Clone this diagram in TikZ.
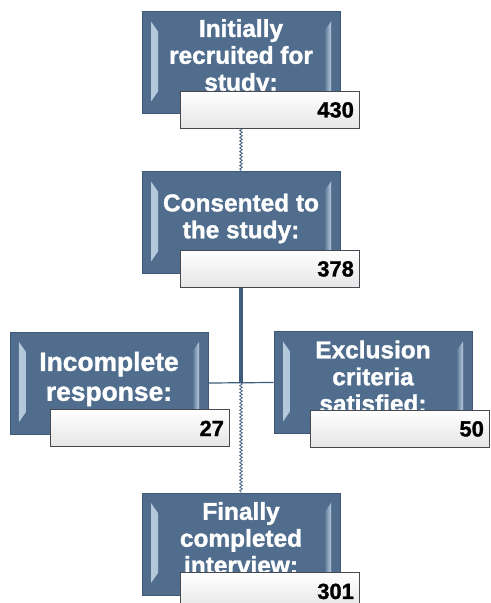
\documentclass[tikz,border=0pt]{standalone}
\usepackage{fontspec}
\setmainfont{Liberation Sans}[BoldFeatures={FakeBold=1.3}]
\usepackage{tikz}
\usetikzlibrary{positioning,calc,decorations.pathmorphing,backgrounds}
\definecolor{boxblue}{RGB}{80,109,141}
\definecolor{boxline}{RGB}{62,88,117}
\definecolor{bevlite}{RGB}{186,205,224}
\definecolor{linecol}{RGB}{62,92,124}
\definecolor{valline}{RGB}{70,74,80}

\begin{document}
\begin{tikzpicture}[
  x=1bp, y=-1bp,
  mainbox/.style={draw=boxline, line width=0.8bp, fill=boxblue,
                  minimum width=198bp, minimum height=102bp,
                  path picture={
                    \fill[left color=bevlite, right color=boxblue]
                      ([shift={(9bp,-10bp)}]path picture bounding box.north west) -- ++(7bp,-10bp)
                      -- ([shift={(16bp,22bp)}]path picture bounding box.south west) -- ++(-7bp,-10bp) -- cycle;
                    \fill[right color=bevlite, left color=boxblue]
                      ([shift={(-9bp,-10bp)}]path picture bounding box.north east) -- ++(-7bp,-10bp)
                      -- ([shift={(-16bp,22bp)}]path picture bounding box.south east) -- ++(7bp,-10bp) -- cycle;
                  }},
  lbl/.style={text=white, font=\bfseries\fontsize{24.5}{27}\selectfont, align=center, inner sep=0pt},
  biglbl/.style={lbl, font=\bfseries\fontsize{26.5}{30}\selectfont},
  valbox/.style={draw=valline, line width=1bp, top color=white, bottom color=gray!20,
                 minimum height=37bp, text width=167bp, inner sep=6bp, align=right,
                 font=\bfseries\fontsize{22}{24}\selectfont, anchor=north east},
  link/.style={draw=linecol, line width=1.2bp},
  trunk/.style={draw=linecol, line width=4bp},
  wavy/.style={draw=linecol, line width=0.8bp, decorate,
               decoration={zigzag, segment length=3.5bp, amplitude=1.3bp}},
]
\useasboundingbox (0,0) rectangle (491,603);

\node[mainbox] (b1) at (241,62.5) {};
\node[mainbox] (b2) at (241,222.5) {};
\node[mainbox] (b3) at (109,383) {};
\node[mainbox] (b4) at (373,382.5) {};
\node[mainbox] (b5) at (241,544) {};

\node[lbl] (t1) at ($(b1.center)+(0,-5)$) {Initially\\recruited for\\study:};
\node[lbl] (t2) at ($(b2.center)+(0,-4)$) {Consented to\\the study:};
\node[biglbl] (t3) at ($(b3.center)+(0,-4)$) {Incomplete\\response:};
\node[lbl] (t4) at ($(b4.center)+(0,-6)$) {Exclusion\\criteria\\satisfied:};
\node[lbl] (t5) at ($(b5.center)+(0,-6)$) {Finally\\completed\\interview:};

\node[valbox] (v1) at ($(b1.south east)+(20,-23)$) {430};
\node[valbox] (v2) at ($(b2.south east)+(20,-24)$) {378};
\node[valbox] (v3) at ($(b3.south east)+(22,-25)$) {27};
\node[valbox] (v4) at ($(b4.south east)+(18,-24)$) {50};
\node[valbox] (v5) at ($(b5.south east)+(20,-23)$) {301};

\coordinate (j) at (b3.east -| b2.south);

\begin{pgfonlayer}{background}
\draw[wavy] (b1.south) -- (b2.north);
\draw[trunk] (b2.south) -- (j);
\draw[link] (b3.east) -- (b4.west);
\draw[wavy] (j) -- (b5.north);
\end{pgfonlayer}
\end{tikzpicture}
\end{document}
